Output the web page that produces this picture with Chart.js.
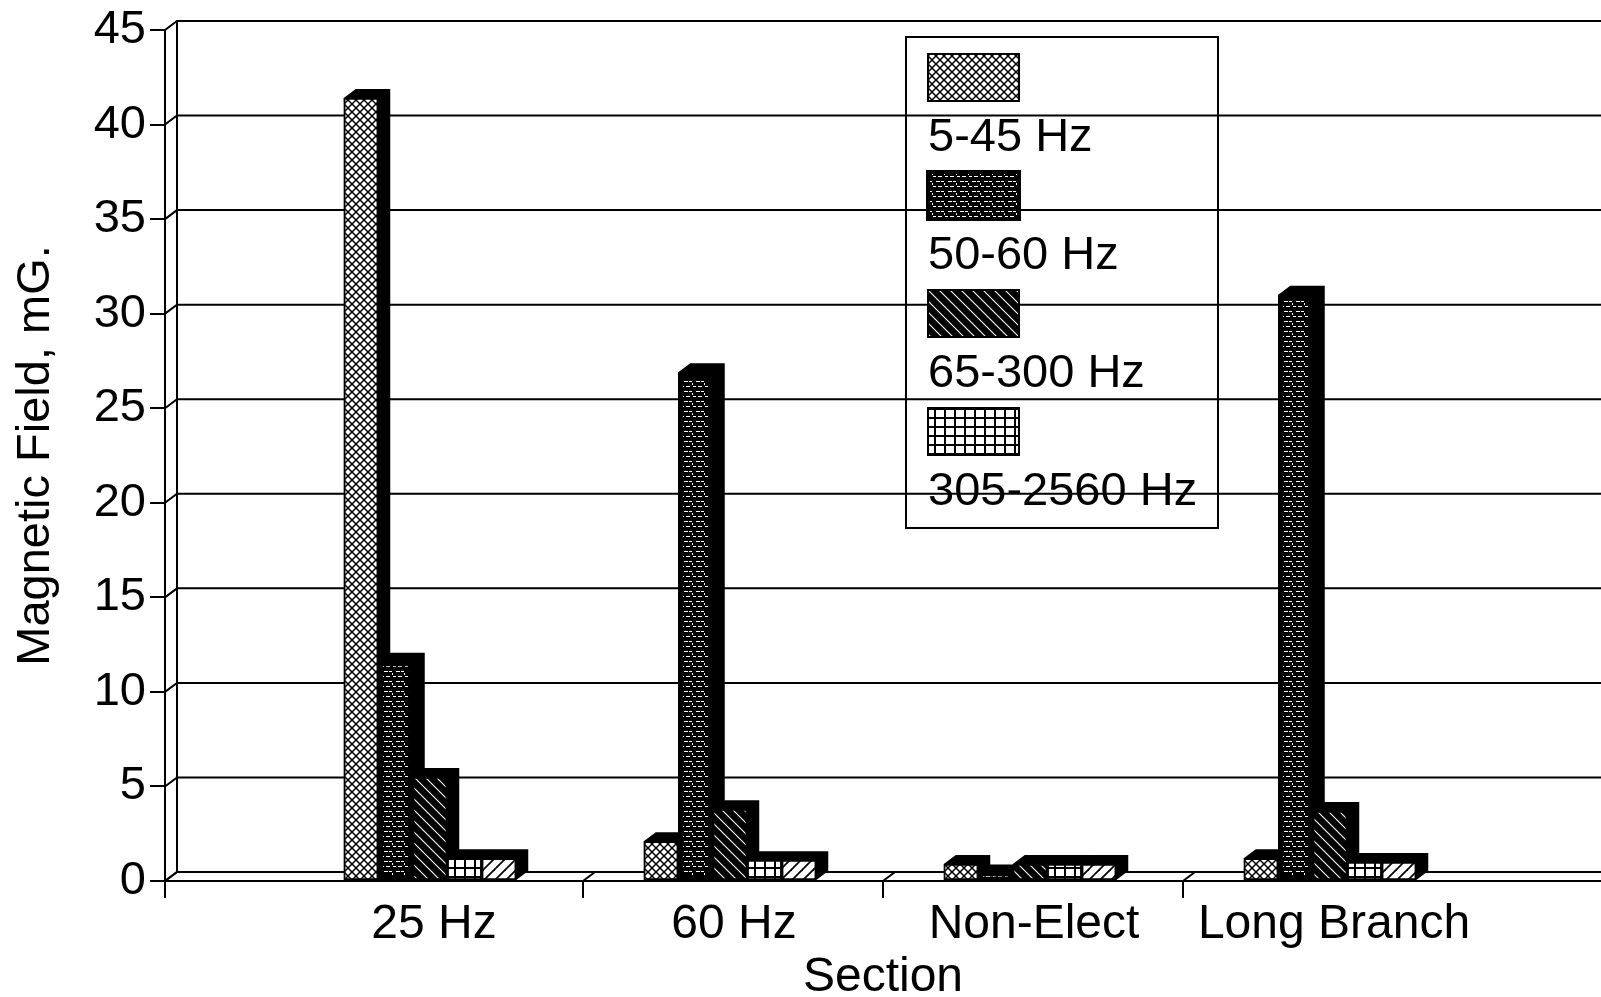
<!DOCTYPE html>
<html>
<head>
<meta charset="utf-8">
<title>Magnetic Field by Section</title>
<script src="https://cdn.jsdelivr.net/npm/chart.js@4/dist/chart.umd.min.js"></script>
<style>
    html, body { margin: 0; padding: 0; background: #ffffff; overflow: hidden; }
    canvas { display: block; }
</style>
</head>
<body>
<canvas id="fieldChart" width="1601" height="997"></canvas>
<script>
const categories = ['25 Hz', '60 Hz', 'Non-Elect', 'Long Branch'];
const seriesNames = ['5-45 Hz', '50-60 Hz', '65-300 Hz', '305-2560 Hz'];
const yTicks = [0, 5, 10, 15, 20, 25, 30, 35, 40, 45];

// the fifth series is in the plot but has no entry in the legend
const band5to45 = [41.4, 2.1, 0.9, 1.2];
const band50to60 = [11.6, 26.9, 0.4, 31.0];
const band65to300 = [5.5, 3.8, 0.9, 3.7];
const band305to2560 = [1.2, 1.1, 0.9, 1.0];
const bandExtra = [1.2, 1.1, 0.9, 1.0];

const FONT = '"Liberation Sans", Arial, sans-serif';
const DEPTH_X = 12;
const DEPTH_Y = 9;
const X_MIN = -0.8833;
const X_MAX = 3.9033;

function makePattern(w, h, bg, draw) {
    const c = document.createElement('canvas');
    c.width = w;
    c.height = h;
    const g = c.getContext('2d');
    g.fillStyle = bg;
    g.fillRect(0, 0, w, h);
    draw(g);
    return g.createPattern(c, 'repeat');
}

function diagonals(g, size, dir, color, width) {
    g.strokeStyle = color;
    g.lineWidth = width;
    for (let i = -1; i <= 1; i++) {
        g.beginPath();
        if (dir > 0) {
            g.moveTo(i * size - 1, size + 1);
            g.lineTo(i * size + size + 1, -1);
        } else {
            g.moveTo(i * size - 1, -1);
            g.lineTo(i * size + size + 1, size + 1);
        }
        g.stroke();
    }
}

const crossPattern = makePattern(8, 8, '#ffffff', g => {
    diagonals(g, 8, 1, '#000000', 1.5);
    diagonals(g, 8, -1, '#000000', 1.5);
});
const brickPattern = makePattern(12, 10, '#000000', g => {
    g.fillStyle = '#ffffff';
    g.fillRect(0, 1, 4, 1);
    g.fillRect(5, 1, 3, 1);
    g.fillRect(9, 6, 3, 1);
    g.fillRect(2, 6, 4, 1);
    g.fillRect(8, 3, 1, 2);
});
const backPattern = makePattern(11, 11, '#000000', g => {
    diagonals(g, 11, -1, '#ffffff', 1.1);
});
const gridPattern = makePattern(10, 9, '#ffffff', g => {
    g.fillStyle = '#000000';
    g.fillRect(0, 3, 10, 2);
    g.fillRect(4, 0, 2, 9);
});
const forwardPattern = makePattern(11, 11, '#ffffff', g => {
    diagonals(g, 11, 1, '#000000', 1.8);
});

function points(values) {
    return values.map((v, i) => ({ x: i, y: v }));
}

function barSet(label, values, pattern, edge) {
    return {
        label: label,
        data: points(values),
        backgroundColor: pattern,
        borderColor: '#000000',
        borderWidth: edge,
        borderSkipped: false,
        barThickness: 34.5
    };
}

// back wall, floor and the dark sides of the bars
const depthPlugin = {
    id: 'depth',
    beforeDatasetsDraw(chart) {
        const ctx = chart.ctx;
        const yScale = chart.scales.y;
        const edge = chart.scales.edges;
        const area = chart.chartArea;
        ctx.save();
        ctx.strokeStyle = '#000000';
        ctx.lineWidth = 2;

        yTicks.forEach(t => {
            const y = yScale.getPixelForValue(t);
            ctx.beginPath();
            ctx.moveTo(area.left, y);
            ctx.lineTo(area.left + DEPTH_X, y - DEPTH_Y);
            ctx.lineTo(area.right, y - DEPTH_Y);
            ctx.stroke();
        });

        ctx.beginPath();
        ctx.moveTo(area.left + DEPTH_X, yScale.getPixelForValue(45) - DEPTH_Y);
        ctx.lineTo(area.left + DEPTH_X, yScale.getPixelForValue(0) - DEPTH_Y);
        ctx.stroke();

        edge.ticks.forEach(t => {
            const x = edge.getPixelForValue(t.value);
            const y = yScale.getPixelForValue(0);
            ctx.beginPath();
            ctx.moveTo(x, y);
            ctx.lineTo(x + DEPTH_X, y - DEPTH_Y);
            ctx.stroke();
        });

        ctx.fillStyle = '#000000';
        chart.data.datasets.forEach((ds, i) => {
            chart.getDatasetMeta(i).data.forEach(bar => {
                const l = bar.x - bar.width / 2;
                const r = bar.x + bar.width / 2;
                ctx.beginPath();
                ctx.moveTo(l, bar.y);
                ctx.lineTo(l + DEPTH_X, bar.y - DEPTH_Y);
                ctx.lineTo(r + DEPTH_X, bar.y - DEPTH_Y);
                ctx.lineTo(r + DEPTH_X, bar.base - DEPTH_Y);
                ctx.lineTo(r, bar.base);
                ctx.closePath();
                ctx.fill();
            });
        });
        ctx.restore();
    }
};

// legend box: swatch above its label, see-through so the grid shows
const legendPlugin = {
    id: 'stackedLegend',
    afterDatasetsDraw(chart) {
        const ctx = chart.ctx;
        ctx.save();
        ctx.strokeStyle = '#000000';
        ctx.lineWidth = 2;
        ctx.strokeRect(906, 37, 312, 491);
        seriesNames.forEach((name, i) => {
            const top = 54 + i * 118;
            ctx.fillStyle = chart.data.datasets[i].backgroundColor;
            ctx.fillRect(928, top, 91, 47);
            ctx.lineWidth = i === 1 ? 4 : 2;
            ctx.strokeRect(928, top, 91, 47);
            ctx.fillStyle = '#000000';
            ctx.font = '47px ' + FONT;
            ctx.textAlign = 'left';
            ctx.textBaseline = 'alphabetic';
            ctx.fillText(name, 928, 151 + i * 118);
        });
        ctx.restore();
    }
};

new Chart(document.getElementById('fieldChart').getContext('2d'), {
    type: 'bar',
    data: {
        datasets: [
            barSet(seriesNames[0], band5to45, crossPattern, 2),
            barSet(seriesNames[1], band50to60, brickPattern, 5),
            barSet(seriesNames[2], band65to300, backPattern, 2),
            barSet(seriesNames[3], band305to2560, gridPattern, 2),
            barSet('', bandExtra, forwardPattern, 2)
        ]
    },
    options: {
        responsive: false,
        animation: false,
        layout: { padding: { top: 30, left: 0, right: 0, bottom: 0 } },
        plugins: {
            legend: { display: false },
            tooltip: { enabled: false }
        },
        scales: {
            x: {
                type: 'linear',
                position: 'bottom',
                weight: 1,
                offset: false,
                min: X_MIN,
                max: X_MAX,
                afterBuildTicks: s => { s.ticks = categories.map((c, i) => ({ value: i })); },
                afterFit: s => { s.height = 99; },
                grid: { display: false, offset: false },
                border: { display: false },
                ticks: {
                    autoSkip: false,
                    maxRotation: 0,
                    padding: -10,
                    labelOffset: 4,
                    color: '#000000',
                    font: { family: FONT, size: 48 },
                    callback: v => categories[v]
                },
                title: {
                    display: true,
                    text: 'Section',
                    color: '#000000',
                    padding: 0,
                    font: { family: FONT, size: 48, lineHeight: 0.8 }
                }
            },
            edges: {
                type: 'linear',
                position: 'bottom',
                weight: 0,
                offset: false,
                min: X_MIN,
                max: X_MAX,
                afterBuildTicks: s => {
                    s.ticks = [X_MIN, 0.51, 1.51, 2.51].map(v => ({ value: v }));
                },
                afterFit: s => { s.height = 17; },
                ticks: { display: false },
                border: { color: '#000000', width: 2 },
                grid: {
                    offset: false,
                    drawOnChartArea: false,
                    color: '#000000',
                    lineWidth: 2,
                    tickLength: 17
                }
            },
            y: {
                min: 0,
                max: 45,
                afterBuildTicks: s => { s.ticks = yTicks.map(t => ({ value: t })); },
                afterFit: s => { s.width = 165; },
                border: { color: '#000000', width: 2 },
                grid: {
                    drawOnChartArea: false,
                    color: '#000000',
                    lineWidth: 2,
                    tickLength: 15
                },
                ticks: {
                    padding: 4,
                    color: '#000000',
                    font: { family: FONT, size: 47, lineHeight: 1 }
                },
                title: {
                    display: true,
                    text: 'Magnetic Field, mG.',
                    color: '#000000',
                    padding: { top: 8, bottom: 0 },
                    font: { family: FONT, size: 47 }
                }
            }
        }
    },
    plugins: [depthPlugin, legendPlugin]
});
</script>
</body>
</html>
